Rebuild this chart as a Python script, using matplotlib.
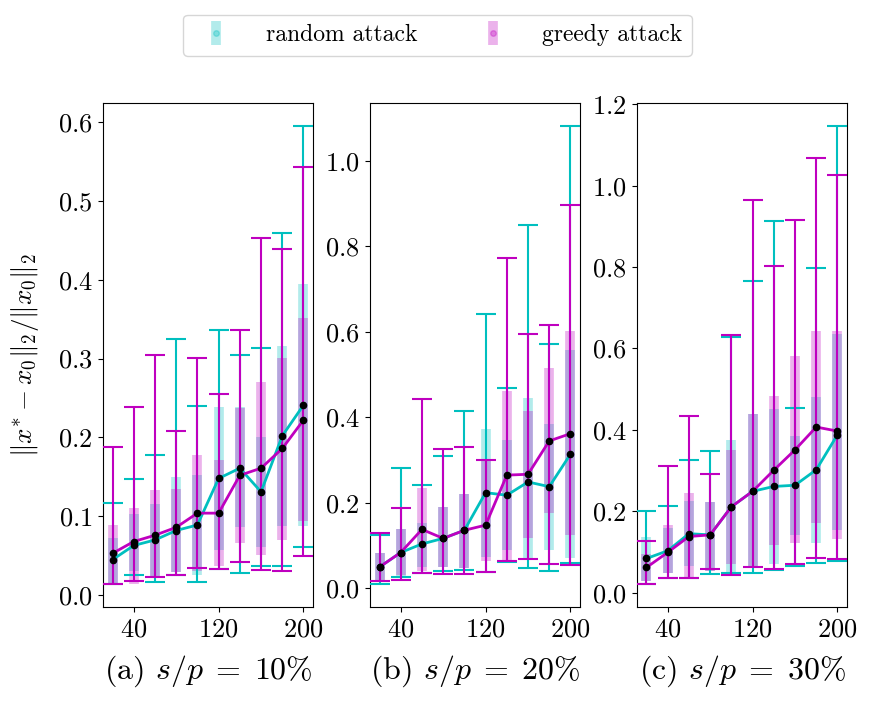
import numpy as np
import matplotlib
matplotlib.use("Agg")
import matplotlib.pyplot as plt

plt.rcParams['font.family'] = 'serif'
plt.rcParams['font.serif'] = ['cmr10', 'DejaVu Serif']
plt.rcParams['mathtext.fontset'] = 'cm'
plt.rcParams['axes.formatter.use_mathtext'] = True

# sparsity levels (x axis)
sizes = [20, 40, 60, 80, 100, 120, 140, 160, 180, 200]
panel_labels = [r"(a) $s/p\;=\;10\%$", r"(b) $s/p\;=\;20\%$", r"(c) $s/p\;=\;30\%$"]
y_ticks = [np.arange(0, 0.61, 0.1), np.arange(0, 1.01, 0.2), np.arange(0, 1.21, 0.2)]

# random attack: median, box (lower/upper), whiskers (lower/upper), one row per panel
rand_med = [[0.045, 0.063, 0.070, 0.082, 0.089, 0.148, 0.161, 0.131, 0.202, 0.241],
            [0.050, 0.084, 0.104, 0.117, 0.136, 0.224, 0.218, 0.249, 0.238, 0.314],
            [0.084, 0.103, 0.145, 0.142, 0.211, 0.249, 0.261, 0.264, 0.302, 0.388]]
rand_box_lo = [[0.016, 0.031, 0.022, 0.029, 0.025, 0.057, 0.086, 0.061, 0.088, 0.088],
               [0.016, 0.025, 0.051, 0.049, 0.047, 0.074, 0.090, 0.068, 0.091, 0.070],
               [0.029, 0.049, 0.066, 0.053, 0.047, 0.060, 0.071, 0.142, 0.123, 0.154]]
rand_box_hi = [[0.073, 0.103, 0.115, 0.150, 0.152, 0.239, 0.238, 0.200, 0.316, 0.395],
               [0.083, 0.140, 0.154, 0.191, 0.222, 0.373, 0.347, 0.446, 0.384, 0.557],
               [0.138, 0.160, 0.226, 0.222, 0.374, 0.439, 0.452, 0.386, 0.482, 0.636]]
rand_wh_lo = [[0.014, 0.025, 0.017, 0.025, 0.017, 0.033, 0.028, 0.037, 0.037, 0.061],
              [0.010, 0.026, 0.035, 0.041, 0.043, 0.039, 0.062, 0.048, 0.041, 0.060],
              [0.021, 0.035, 0.037, 0.047, 0.048, 0.049, 0.055, 0.065, 0.074, 0.078]]
rand_wh_hi = [[0.117, 0.147, 0.178, 0.325, 0.240, 0.336, 0.304, 0.314, 0.459, 0.595],
              [0.126, 0.281, 0.241, 0.309, 0.415, 0.643, 0.469, 0.851, 0.572, 1.082],
              [0.201, 0.214, 0.326, 0.349, 0.628, 0.765, 0.913, 0.454, 0.797, 1.147]]

# greedy attack
greedy_med = [[0.053, 0.068, 0.076, 0.086, 0.104, 0.104, 0.152, 0.161, 0.186, 0.222],
              [0.050, 0.084, 0.138, 0.117, 0.136, 0.148, 0.265, 0.267, 0.345, 0.362],
              [0.062, 0.099, 0.138, 0.142, 0.211, 0.249, 0.301, 0.351, 0.407, 0.397]]
greedy_box_lo = [[0.016, 0.014, 0.022, 0.029, 0.031, 0.037, 0.066, 0.051, 0.070, 0.094],
                 [0.016, 0.031, 0.041, 0.049, 0.047, 0.065, 0.066, 0.119, 0.177, 0.125],
                 [0.029, 0.049, 0.035, 0.053, 0.070, 0.066, 0.117, 0.121, 0.170, 0.131]]
greedy_box_hi = [[0.089, 0.111, 0.133, 0.135, 0.178, 0.171, 0.237, 0.270, 0.301, 0.351],
                 [0.083, 0.140, 0.235, 0.191, 0.222, 0.302, 0.462, 0.415, 0.516, 0.602],
                 [0.094, 0.167, 0.244, 0.222, 0.351, 0.439, 0.484, 0.581, 0.644, 0.644]]
greedy_wh_lo = [[0.014, 0.018, 0.023, 0.025, 0.034, 0.033, 0.042, 0.032, 0.031, 0.050],
                [0.017, 0.020, 0.035, 0.033, 0.034, 0.039, 0.065, 0.069, 0.056, 0.054],
                [0.021, 0.035, 0.037, 0.059, 0.043, 0.063, 0.059, 0.070, 0.086, 0.082]]
greedy_wh_hi = [[0.188, 0.238, 0.304, 0.208, 0.301, 0.255, 0.336, 0.453, 0.439, 0.543],
                [0.130, 0.187, 0.444, 0.325, 0.330, 0.300, 0.773, 0.596, 0.617, 0.896],
                [0.127, 0.311, 0.435, 0.291, 0.634, 0.965, 0.802, 0.915, 1.067, 1.027]]


def draw_series(ax, med, box_lo, box_hi, wh_lo, wh_hi, color, label):
    med = np.array(med)
    box_err = [np.clip(med - np.array(box_lo), 0, None), np.clip(np.array(box_hi) - med, 0, None)]
    wh_err = [np.clip(med - np.array(wh_lo), 0, None), np.clip(np.array(wh_hi) - med, 0, None)]
    h = ax.errorbar(sizes, med, yerr=box_err, fmt='o', color=color, ms=4,
                    elinewidth=7, alpha=0.3, label=label, zorder=2)
    ax.errorbar(sizes, med, yerr=wh_err, fmt='none', ecolor=color,
                elinewidth=1.5, capsize=7, capthick=1.5, zorder=3)
    ax.plot(sizes, med, '-', color=color, lw=2, zorder=4)
    ax.plot(sizes, med, 'o', color='k', ms=4.5, zorder=5)
    return h


fig, axes = plt.subplots(1, 3, figsize=(8.75, 7.1), dpi=100)
fig.subplots_adjust(left=0.1177, right=0.968, bottom=0.145, top=0.855, wspace=0.271)

for i, ax in enumerate(axes):
    h1 = draw_series(ax, rand_med[i], rand_box_lo[i], rand_box_hi[i],
                     rand_wh_lo[i], rand_wh_hi[i], 'c', 'random attack')
    h2 = draw_series(ax, greedy_med[i], greedy_box_lo[i], greedy_box_hi[i],
                     greedy_wh_lo[i], greedy_wh_hi[i], 'm', 'greedy attack')
    ax.set_xticks([40, 120, 200])
    ax.set_yticks(y_ticks[i])
    ax.tick_params(labelsize=19, pad=4)
    ax.set_xlabel(panel_labels[i], fontsize=23, labelpad=9)

axes[0].set_ylabel(r"$\Vert x^{*}-x_0\Vert_2/\Vert x_0\Vert_2$", fontsize=19.5, labelpad=12)

fig.legend([h1, h2], ['random attack', 'greedy attack'], loc='upper center',
           bbox_to_anchor=(0.5, 0.996), ncol=2, fontsize=17, handletextpad=1.1,
           columnspacing=2.2, borderpad=0.4)

fig.savefig('out.png', dpi=100)
